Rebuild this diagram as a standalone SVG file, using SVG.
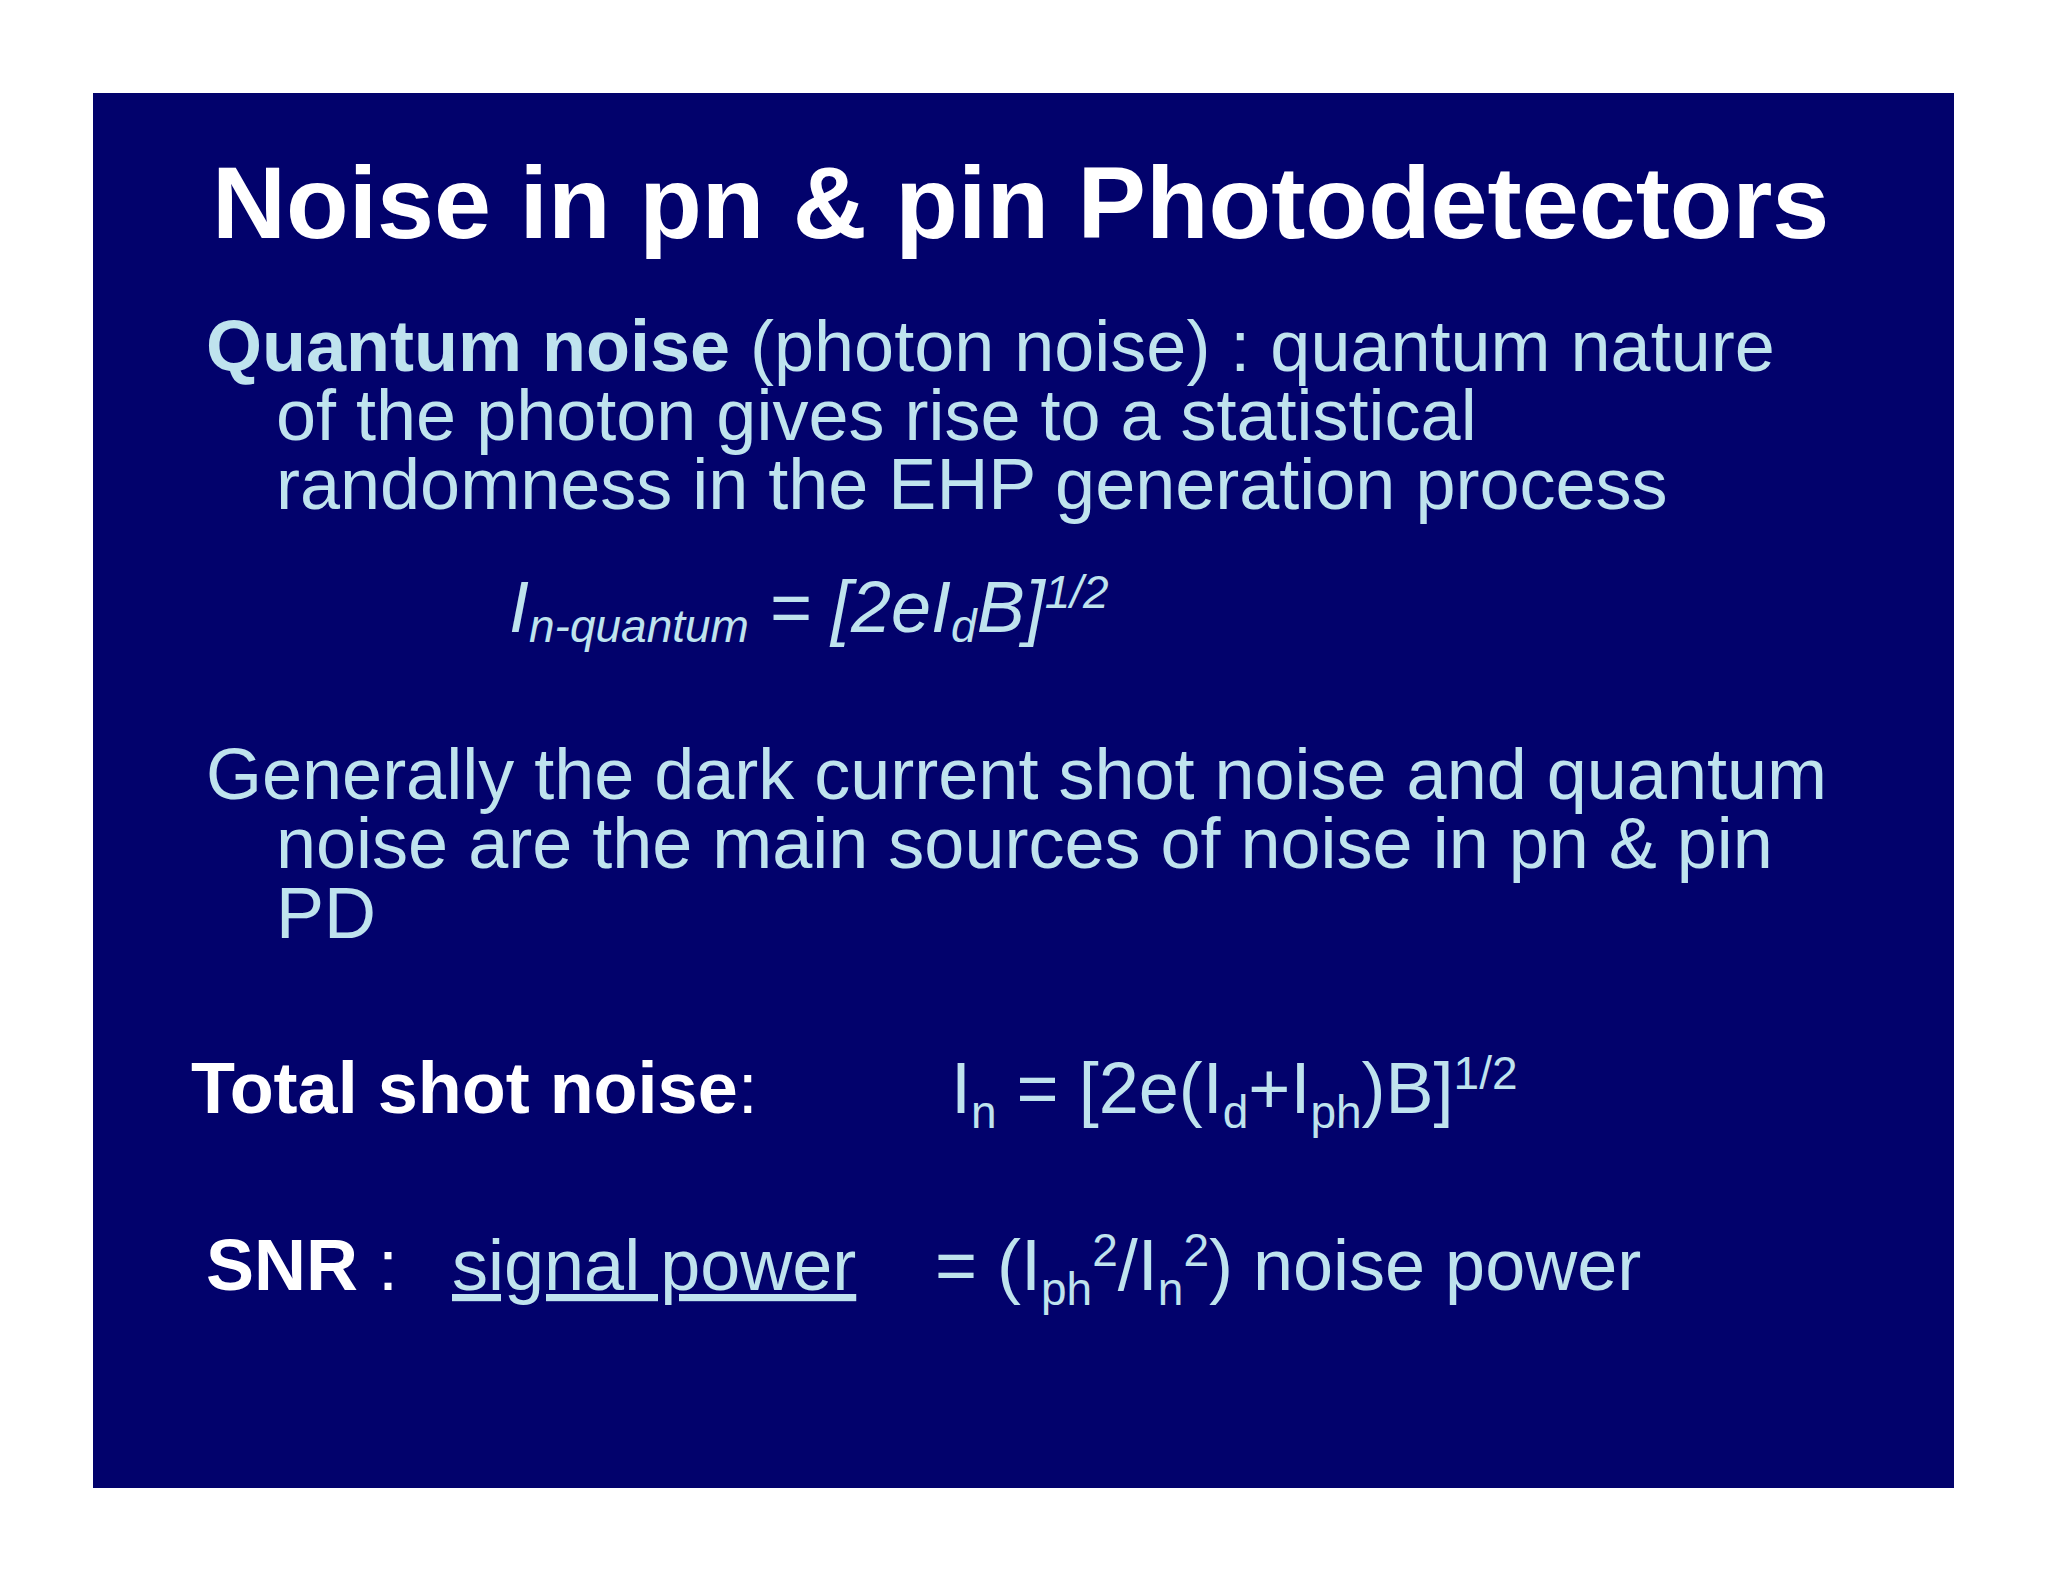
<svg xmlns="http://www.w3.org/2000/svg" width="2048" height="1582" viewBox="0 0 2048 1582">
<style>
text{font-family:"Liberation Sans",Arial,sans-serif;}
.t{fill:#bfe3ee;font-size:72px;}
.w{fill:#ffffff;font-weight:bold;}
.b{font-weight:bold;}
</style>
<rect width="2048" height="1582" fill="#ffffff"/>
<g id="slide">
<rect x="93" y="93" width="1861" height="1395" fill="#02026c"/>
<text class="w" x="212" y="238" font-size="102.5">Noise in pn &amp; pin Photodetectors</text>
<text class="t" x="206" y="371"><tspan class="b">Quantum noise</tspan> (photon noise) : quantum nature</text>
<text class="t" x="276" y="440">of the photon gives rise to a statistical</text>
<text class="t" x="276" y="509">randomness in the EHP generation process</text>
<text class="t" x="509" y="632" font-style="italic">I<tspan font-size="46" dy="10">n-quantum</tspan><tspan dy="-10"> = [2eI</tspan><tspan font-size="46" dy="10">d</tspan><tspan dy="-10">B]</tspan><tspan font-size="46" dy="-24">1/2</tspan></text>
<text class="t" x="206" y="799">Generally the dark current shot noise and quantum</text>
<text class="t" x="276" y="868">noise are the main sources of noise in pn &amp; pin</text>
<text class="t" x="276" y="938">PD</text>
<text class="w" x="191" y="1113" font-size="72">Total shot noise<tspan font-weight="normal">:</tspan></text>
<text class="t" x="951" y="1113">I<tspan font-size="46" dy="15">n</tspan><tspan dy="-15"> = [2e(I</tspan><tspan font-size="46" dy="15">d</tspan><tspan dy="-15">+I</tspan><tspan font-size="46" dy="15">ph</tspan><tspan dy="-15">)B]</tspan><tspan font-size="46" dy="-24">1/2</tspan></text>
<text class="w" x="206" y="1290" font-size="72">SNR <tspan font-weight="normal">:</tspan></text>
<text class="t" x="452" y="1290" text-decoration="underline">signal power</text>
<text class="t" x="935" y="1290">= (I<tspan font-size="46" dy="15">ph</tspan><tspan dy="-39" font-size="46">2</tspan><tspan dy="24">/I</tspan><tspan font-size="46" dy="15">n</tspan><tspan dy="-39" font-size="46">2</tspan><tspan dy="24">) noise power</tspan></text>
</g>
</svg>
